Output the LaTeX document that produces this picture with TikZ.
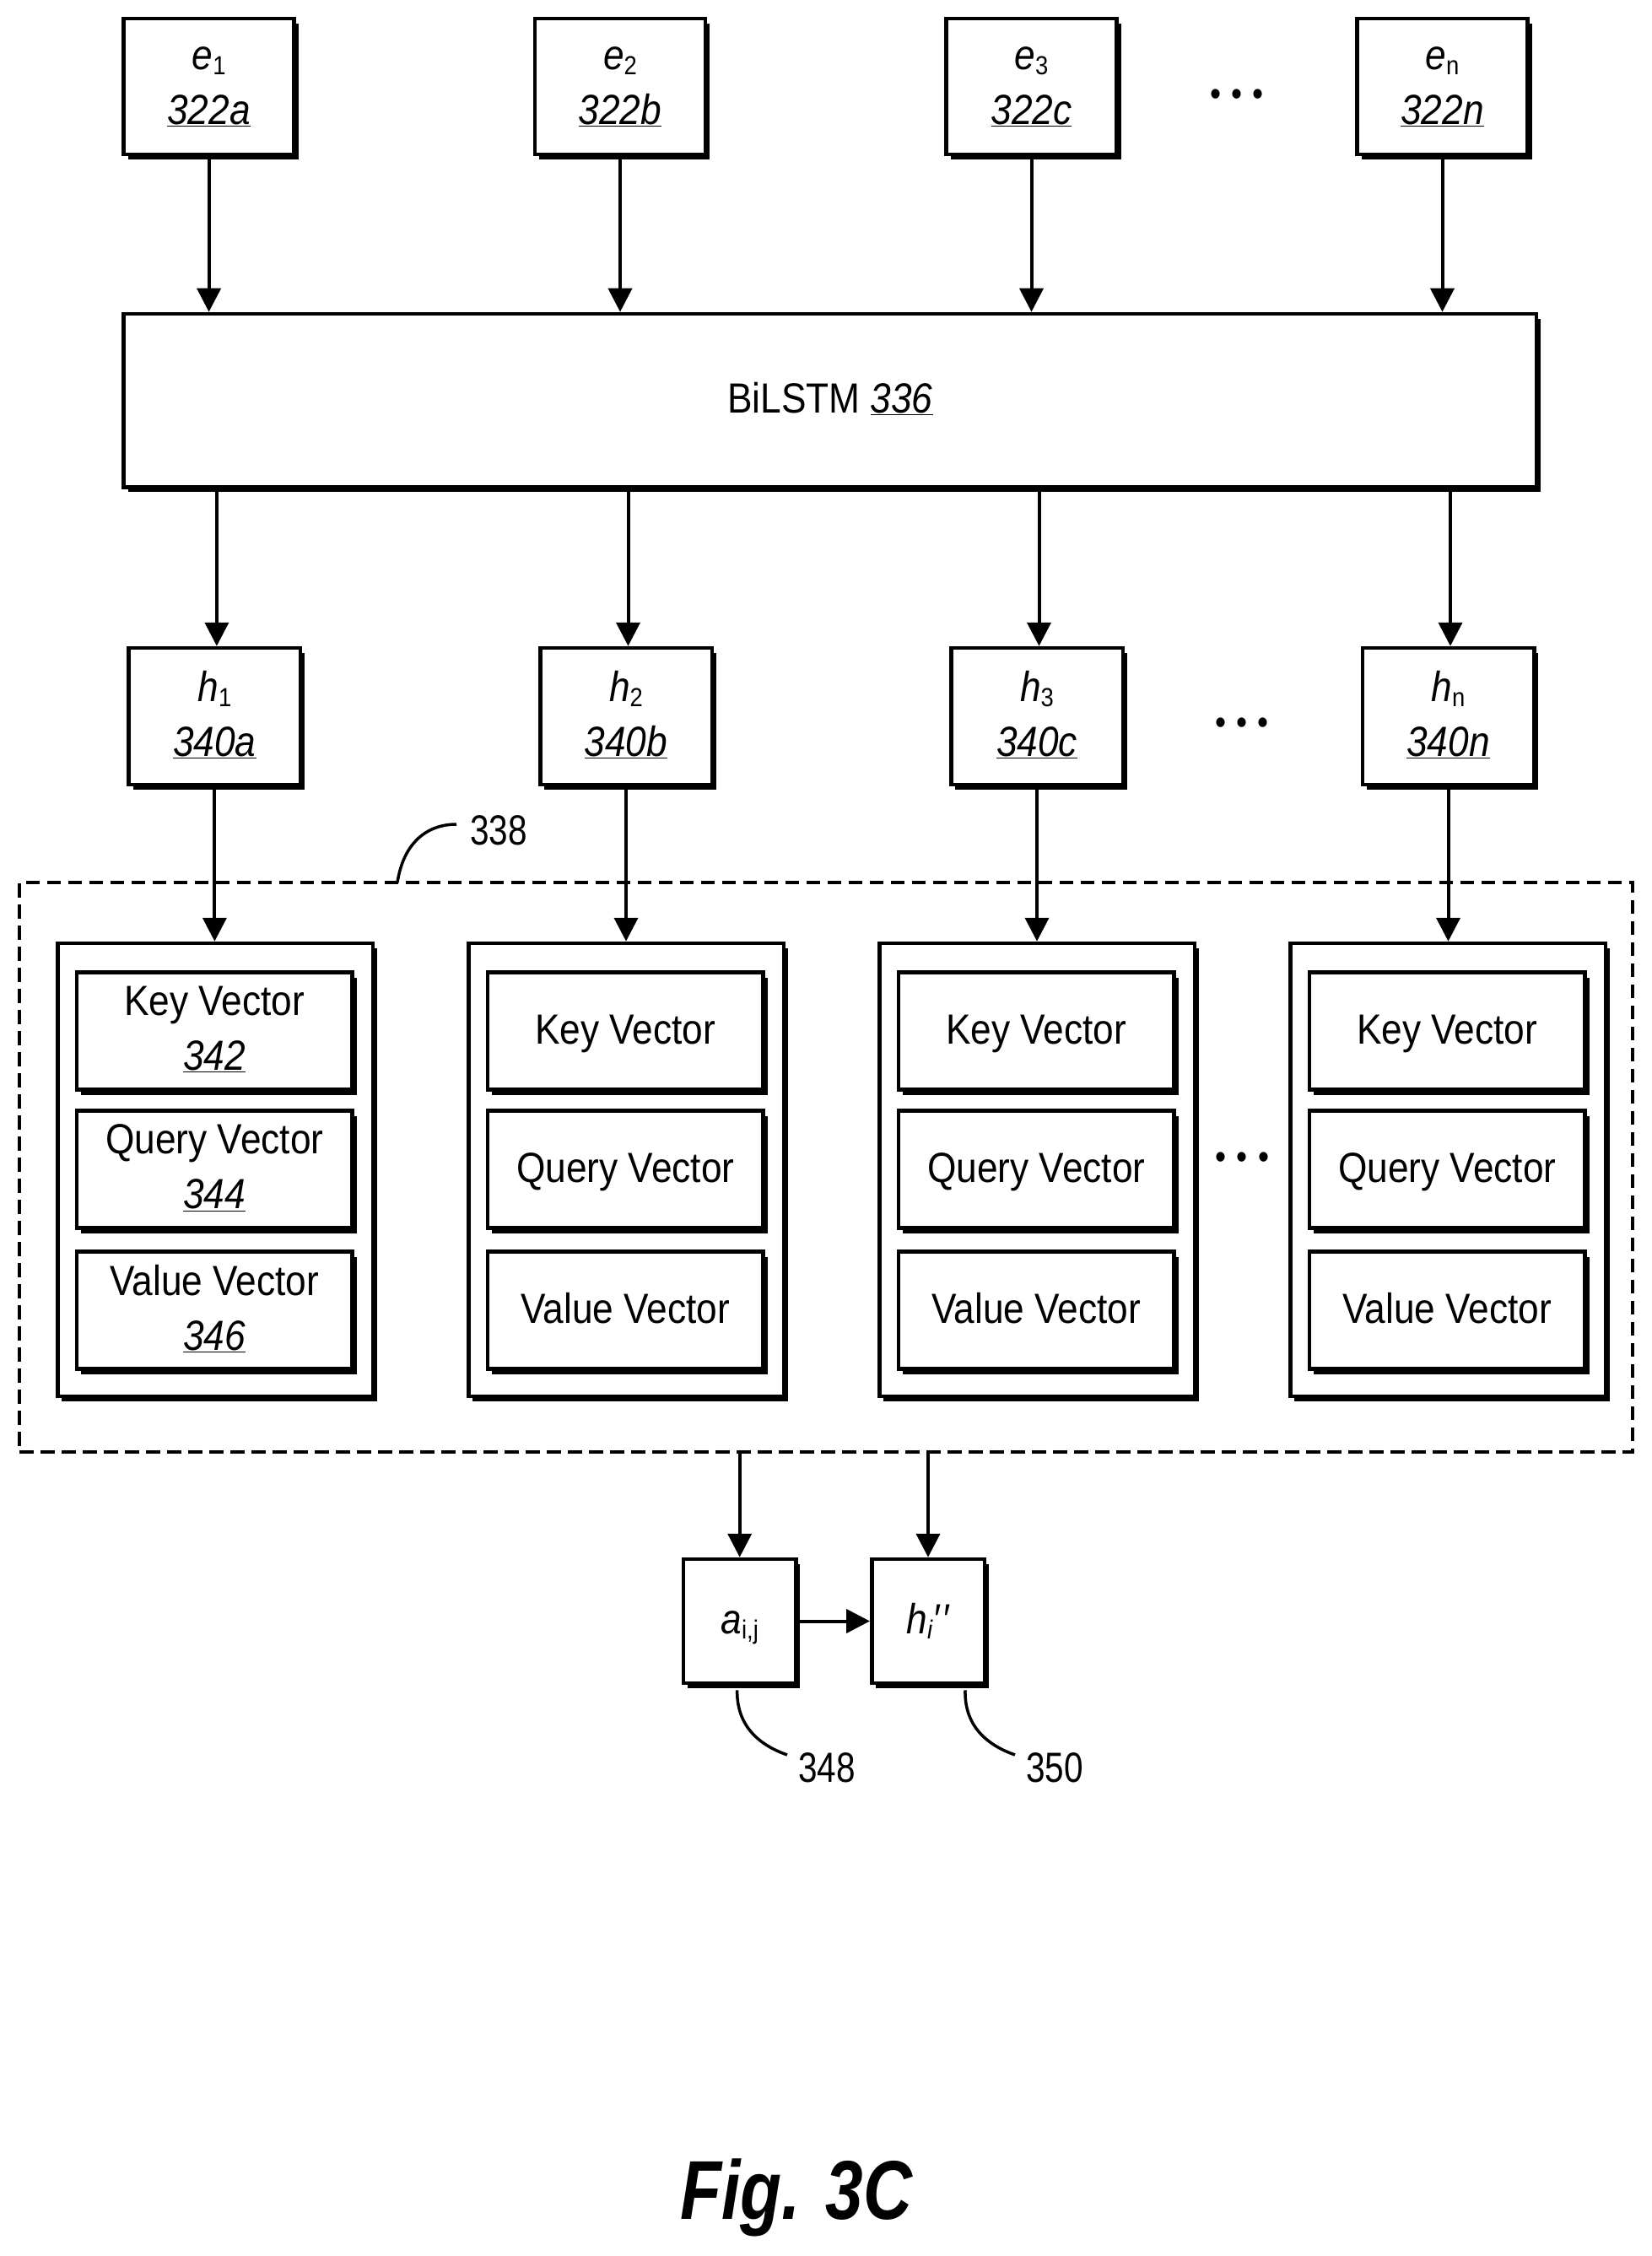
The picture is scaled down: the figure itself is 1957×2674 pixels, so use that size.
\documentclass[tikz,border=0pt]{standalone}
\usepackage{fontspec}
\setmainfont[FakeStretch=0.885]{Liberation Sans}
\newfontfamily\figfont[FakeStretch=0.81]{Liberation Sans}
\usepackage{tikz}
\usetikzlibrary{arrows.meta,shadows}

\newcommand{\subtxt}[1]{\raisebox{-6pt}{\fontsize{31}{31}\selectfont #1}}
\newcommand{\numul}[1]{\underline{\textit{#1}}}
\newcommand{\vstrut}{\rule[-17pt]{0pt}{64pt}}
\newcommand{\twoln}[3][11pt]{\raisebox{-#1}{#2}\\\raisebox{-#1}{#3}}
\newcommand{\threedots}{\fontsize{42}{42}\selectfont\textbullet\hspace{12.4pt}\textbullet\hspace{12.4pt}\textbullet}

\tikzset{
  txt/.style={font=\fontsize{50}{65}\selectfont,align=center,inner sep=0pt},
  lbl/.style={font=\fontsize{50}{65}\selectfont\figfont,inner sep=0pt},
  basebox/.style={txt,draw,line width=4.5pt,fill=white,
    execute at begin node=\vstrut,execute at end node=\vstrut,
    drop shadow={shadow xshift=5pt,shadow yshift=-6pt,fill=black,opacity=1}},
  embbox/.style={basebox,minimum width=202pt,minimum height=161pt},
  hidbox/.style={basebox,minimum width=203.5pt,minimum height=162pt},
  outbox/.style={basebox,minimum width=373.5pt,minimum height=537pt},
  vecbox/.style={basebox,minimum width=326.6pt,minimum height=139pt},
  resbox/.style={basebox,minimum width=133.5pt,minimum height=147pt},
  arr/.style={line width=4pt,-{Triangle[length=28pt,width=28pt]}},
  lead/.style={line width=3.5pt},
  dotrow/.style={inner sep=0pt},
}

\begin{document}
\begin{tikzpicture}[x=1pt,y=-1pt]
  \useasboundingbox (0,0) rectangle (1957,2674);

  \node[embbox] (e1) at (247.6,102.4) {\twoln[20pt]{\textit{e}\subtxt{1}}{\numul{322a}}};
  \node[embbox] (e2) at (735,102.4) {\twoln[20pt]{\textit{e}\subtxt{2}}{\numul{322b}}};
  \node[embbox] (e3) at (1222.5,102.4) {\twoln[20pt]{\textit{e}\subtxt{3}}{\numul{322c}}};
  \node[embbox] (en) at (1709.5,102.4) {\twoln[20pt]{\textit{e}\subtxt{n}}{\numul{322n}}};
  \node[dotrow] (dotse) at (1466,116) {\threedots};

  \node[basebox,minimum width=1674.4pt,minimum height=205.5pt] (bilstm) at (983.8,474.7)
    {BiLSTM \numul{336}};

  \node[hidbox] (h1) at (254.4,849) {\twoln{\textit{h}\subtxt{1}}{\numul{340a}}};
  \node[hidbox] (h2) at (742,849) {\twoln{\textit{h}\subtxt{2}}{\numul{340b}}};
  \node[hidbox] (h3) at (1229,849) {\twoln{\textit{h}\subtxt{3}}{\numul{340c}}};
  \node[hidbox] (hn) at (1716.5,849) {\twoln{\textit{h}\subtxt{n}}{\numul{340n}}};
  \node[dotrow] (dotsh) at (1472,861) {\threedots};

  \draw[arr] (e1.south) -- (e1.south |- bilstm.north);
  \draw[arr] (e2.south) -- (e2.south |- bilstm.north);
  \draw[arr] (e3.south) -- (e3.south |- bilstm.north);
  \draw[arr] (en.south) -- (en.south |- bilstm.north);

  \draw[arr] ([xshift=2.5pt]h1.north |- bilstm.south) -- ([xshift=2.5pt]h1.north);
  \draw[arr] ([xshift=2.5pt]h2.north |- bilstm.south) -- ([xshift=2.5pt]h2.north);
  \draw[arr] ([xshift=2.5pt]h3.north |- bilstm.south) -- ([xshift=2.5pt]h3.north);
  \draw[arr] ([xshift=2.5pt]hn.north |- bilstm.south) -- ([xshift=2.5pt]hn.north);

  \node[draw,line width=3.5pt,dash pattern=on 16.5pt off 8.5pt,inner sep=0pt,
    minimum width=1912pt,minimum height=675pt] (attn) at (979,1383.5) {};

  \node[outbox] (o1) at (255,1386.5) {};
  \node[outbox] (o2) at (742,1386.5) {};
  \node[outbox] (o3) at (1229,1386.5) {};
  \node[outbox] (o4) at (1716,1386.5) {};

  \node[vecbox] (k1) at (254.3,1222) {\twoln{Key Vector}{\numul{342}}};
  \node[vecbox] (q1) at (254.3,1386) {\twoln{Query Vector}{\numul{344}}};
  \node[vecbox] (v1) at (254.3,1553) {\twoln{Value Vector}{\numul{346}}};
  \node[vecbox] (k2) at (741.3,1222) {Key Vector};
  \node[vecbox] (q2) at (741.3,1386) {Query Vector};
  \node[vecbox] (v2) at (741.3,1553) {Value Vector};
  \node[vecbox] (k3) at (1228.3,1222) {Key Vector};
  \node[vecbox] (q3) at (1228.3,1386) {Query Vector};
  \node[vecbox] (v3) at (1228.3,1553) {Value Vector};
  \node[vecbox] (k4) at (1715.3,1222) {Key Vector};
  \node[vecbox] (q4) at (1715.3,1386) {Query Vector};
  \node[vecbox] (v4) at (1715.3,1553) {Value Vector};
  \node[dotrow] (dotsv) at (1472.4,1376) {\threedots};

  \draw[arr] (h1.south) -- (h1.south |- o1.north);
  \draw[arr] (h2.south) -- (h2.south |- o2.north);
  \draw[arr] (h3.south) -- (h3.south |- o3.north);
  \draw[arr] (hn.south) -- (hn.south |- o4.north);

  \node[lbl] (n338) at (591,984) {338};
  \coordinate (l338) at (541,977);
  \coordinate (s338) at (471,1046);
  \draw[lead] (s338) .. controls (478,1000) and (505,977) .. (l338);

  \node[resbox] (aij) at (876.7,1921.5) {\textit{a}\subtxt{i,j}};
  \node[resbox] (hpp) at (1100,1921.5) {\textit{h}\subtxt{\textit{i}}\textit{′\hspace{2pt}′}};

  \draw[arr] (aij.north |- attn.south) -- (aij.north);
  \draw[arr] (hpp.north |- attn.south) -- (hpp.north);
  \draw[arr] (aij.east) -- (hpp.west);

  \node[lbl] (n348) at (980,2095) {348};
  \node[lbl] (n350) at (1250,2095) {350};
  \coordinate (l348) at (933,2080);
  \coordinate (l350) at (1203,2080);
  \draw[lead] ([xshift=-3pt,yshift=-6pt]aij.south) .. controls (873,2040) and (893,2066) .. (l348);
  \draw[lead] ([xshift=44pt,yshift=-6pt]hpp.south) .. controls (1143,2040) and (1163,2066) .. (l350);

  \node[inner sep=0pt,font=\fontsize{99}{99}\selectfont\figfont\bfseries\itshape] (figlbl) at (944,2605) {Fig. 3C};
\end{tikzpicture}
\end{document}
